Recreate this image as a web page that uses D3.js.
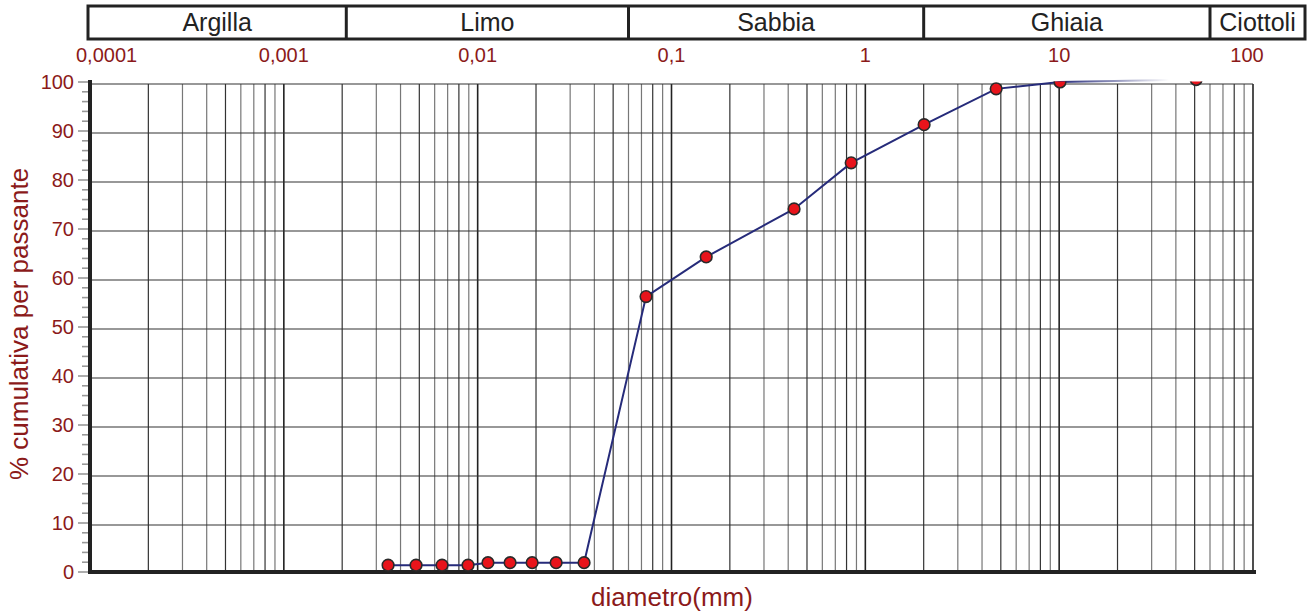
<!DOCTYPE html>
<html>
<head>
<meta charset="utf-8">
<script src="https://cdn.jsdelivr.net/npm/d3@7"></script>
<style>
  body { margin: 0; background: #fff; }
  svg { display: block; font-family: "Liberation Sans", Arial, sans-serif; }
</style>
</head>
<body>
<div id="chart"></div>
<script>
// grain size classes (band on top)
var classNames = ["Argilla", "Limo", "Sabbia", "Ghiaia", "Ciottoli"];
var classLimits = [0.0001, 0.0021, 0.06, 2, 60, 300];

// x tick labels (top)
var xTickValues = [0.0001, 0.001, 0.01, 0.1, 1, 10, 100];
var xTickLabels = ["0,0001", "0,001", "0,01", "0,1", "1", "10", "100"];

// sample: diameter (mm) and cumulative passing (%)
var diameters = [0.00345, 0.00481, 0.00655, 0.00892, 0.0113, 0.0147, 0.0191, 0.0254, 0.0354,
                 0.0739, 0.151, 0.429, 0.845, 2.01, 4.73, 10.1, 50.9];
var passing = [1.4, 1.4, 1.4, 1.4, 1.9, 1.9, 1.9, 1.9, 1.9,
               56.2, 64.3, 74.1, 83.5, 91.3, 98.6, 100, 100.5];

var W = 1311, H = 615;
var red = "#8b1a1a";

var svg = d3.select("#chart").append("svg")
  .attr("width", W)
  .attr("height", H);

var x = d3.scaleLog().domain([0.0001, 100]).range([90, 1253]);
var y = d3.scaleLinear().domain([0, 100]).range([572, 82]);

/* grid lines: every 1..9 x decade */
var gridX = [];
for (var e = -4; e < 2; e++) {
  for (var m = 1; m <= 9; m++) gridX.push(m * Math.pow(10, e));
}
gridX.push(100);

svg.append("g").selectAll("line")
  .data(gridX)
  .enter().append("line")
  .attr("x1", d => x(d)).attr("x2", d => x(d))
  .attr("y1", y(100) + 2).attr("y2", y(0))
  .attr("stroke", (d, i) => (Math.abs(Math.log10(d) % 1) < 1e-9) ? "#222" : (i % 3 === 1 ? "#333" : "#777"))
  .attr("stroke-width", d => (Math.abs(Math.log10(d) % 1) < 1e-9) ? 1.6 : 1.2);

svg.append("g").selectAll("line")
  .data(d3.range(10, 101, 10))
  .enter().append("line")
  .attr("x1", x(0.0001)).attr("x2", x(100))
  .attr("y1", d => y(d) + 2).attr("y2", d => y(d) + 2)
  .attr("stroke", "#333")
  .attr("stroke-width", 1.2);

/* y axis ticks */
svg.append("g").selectAll("line")
  .data(d3.range(0, 101, 2))
  .enter().append("line")
  .attr("x1", d => d % 10 === 0 ? 78 : 82).attr("x2", 89)
  .attr("y1", d => y(d)).attr("y2", d => y(d))
  .attr("stroke", "#999")
  .attr("stroke-width", 1.6);

svg.append("g").selectAll("text")
  .data(d3.range(0, 101, 10))
  .enter().append("text")
  .attr("x", 74)
  .attr("y", d => y(d))
  .attr("dy", "0.35em")
  .attr("text-anchor", "end")
  .attr("fill", red)
  .style("font-size", "20px")
  .text(d => d);

/* axis lines */
svg.append("line")
  .attr("x1", 90).attr("x2", 90)
  .attr("y1", y(100) - 2).attr("y2", y(0) + 2)
  .attr("stroke", "#222").attr("stroke-width", 4);
svg.append("line")
  .attr("x1", 88).attr("x2", x(100) + 3)
  .attr("y1", y(0)).attr("y2", y(0))
  .attr("stroke", "#222").attr("stroke-width", 4);

/* top x labels */
svg.append("g").selectAll("text")
  .data(xTickValues)
  .enter().append("text")
  .attr("x", (d, i) => i === 0 ? x(d) - 14 : x(d) - (i === 6 ? 6 : 0))
  .attr("y", 62)
  .attr("text-anchor", (d, i) => i === 0 ? "start" : "middle")
  .attr("fill", red)
  .style("font-size", "20px")
  .text((d, i) => xTickLabels[i]);

/* class band */
var band = svg.append("g");
var bx = d => Math.min(x(d), 1305);
band.append("rect")
  .attr("x", 88).attr("y", 6)
  .attr("width", 1305 - 88).attr("height", 33)
  .attr("fill", "none").attr("stroke", "#222").attr("stroke-width", 3);
band.selectAll("line")
  .data(classLimits.slice(1, -1))
  .enter().append("line")
  .attr("x1", d => x(d)).attr("x2", d => x(d))
  .attr("y1", 6).attr("y2", 39)
  .attr("stroke", "#222").attr("stroke-width", 3);
band.selectAll("text")
  .data(classNames)
  .enter().append("text")
  .attr("x", (d, i) => ((i === 0 ? 88 : bx(classLimits[i])) + bx(classLimits[i + 1])) / 2)
  .attr("y", 31)
  .attr("text-anchor", "middle")
  .attr("fill", "#222")
  .style("font-size", "25px")
  .text(d => d);

/* curve */
var pts = diameters.map((d, i) => [d, passing[i]]);
var defs = svg.append("defs");
defs.append("clipPath").attr("id", "plotclip")
  .append("rect").attr("x", 85).attr("y", y(100) - 0.5)
  .attr("width", 1180).attr("height", 500);

var last = pts.length - 1;
var grad = defs.append("linearGradient")
  .attr("id", "fade")
  .attr("gradientUnits", "userSpaceOnUse")
  .attr("x1", x(pts[last - 1][0])).attr("x2", x(pts[last][0]))
  .attr("y1", 0).attr("y2", 0);
grad.append("stop").attr("offset", 0).attr("stop-color", "#262b7a").attr("stop-opacity", 1);
grad.append("stop").attr("offset", 0.8).attr("stop-color", "#262b7a").attr("stop-opacity", 0);

var line = d3.line().x(d => x(d[0])).y(d => y(d[1]));

svg.append("path")
  .datum(pts.slice(0, last))
  .attr("d", line)
  .attr("fill", "none")
  .attr("stroke", "#262b7a")
  .attr("stroke-width", 2);

svg.append("path")
  .datum(pts.slice(last - 1))
  .attr("d", line)
  .attr("fill", "none")
  .attr("stroke", "url(#fade)")
  .attr("stroke-width", 2);

svg.append("g").attr("clip-path", "url(#plotclip)")
  .selectAll("circle")
  .data(pts)
  .enter().append("circle")
  .attr("cx", d => x(d[0]))
  .attr("cy", d => y(d[1]))
  .attr("r", 5.8)
  .attr("fill", "#e8141b")
  .attr("stroke", "#2a2a2a")
  .attr("stroke-width", 1.6);

/* axis titles */
svg.append("text")
  .attr("x", 672).attr("y", 606)
  .attr("text-anchor", "middle")
  .attr("fill", red)
  .style("font-size", "26px")
  .text("diametro(mm)");

svg.append("text")
  .attr("transform", "translate(28,324) rotate(-90)")
  .attr("text-anchor", "middle")
  .attr("fill", red)
  .style("font-size", "26px")
  .text("% cumulativa per passante");
</script>
</body>
</html>
